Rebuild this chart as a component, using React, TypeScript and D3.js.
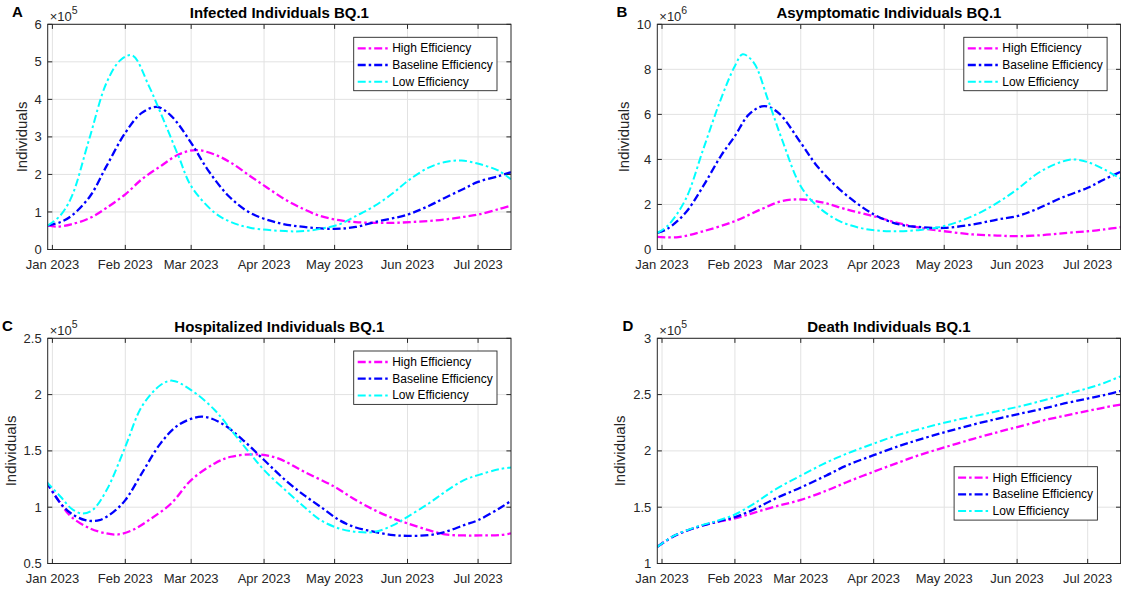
import * as d3 from "d3";

// day offsets from 1 Jan 2023, values in axis units (x10^5 or x10^6)
const infectedHigh: [number, number][] = [
  [-2, 0.64], [2, 0.61], [8, 0.67], [16, 0.84], [23, 1.11], [31, 1.47], [38, 1.87], [46, 2.22],
  [53.6, 2.53], [61, 2.65], [69, 2.53], [76, 2.31], [84, 1.96], [91.5, 1.64], [99, 1.33],
  [107, 1.07], [114, 0.89], [122, 0.78], [129, 0.73], [137, 0.71], [145, 0.71], [152, 0.73],
  [160, 0.76], [167, 0.8], [175, 0.87], [181, 0.93], [190, 1.08], [195, 1.17],
];
const infectedBase: [number, number][] = [
  [-2, 0.64], [3, 0.72], [8, 0.89], [16, 1.42], [23, 2.22], [31, 3.11], [38, 3.64], [44.5, 3.8], [50.5, 3.56],
  [59, 2.84], [66, 2.13], [75, 1.42], [84, 0.98], [96, 0.71], [107, 0.6], [120, 0.55], [129, 0.6],
  [137, 0.73], [151, 0.93], [160, 1.16], [167, 1.38], [175, 1.62], [181, 1.8], [190, 1.96], [195, 2.06],
];
const infectedLow: [number, number][] = [
  [-2, 0.64], [3, 0.88], [8, 1.38], [15.6, 2.93], [23, 4.44], [29, 5.05], [34, 5.17], [41, 4.36], [46, 3.64],
  [53.6, 2.49], [59, 1.69], [69, 0.98], [76, 0.73], [84, 0.58], [99, 0.49], [107, 0.49], [114, 0.55],
  [122, 0.67], [129, 0.89], [137, 1.16], [145, 1.51], [152, 1.87], [160, 2.18], [167, 2.33],
  [174, 2.37], [182, 2.27], [190, 2.09], [195, 1.87],
];

const asymHigh: [number, number][] = [
  [-2, 0.56], [7, 0.55], [17.5, 0.81], [31, 1.26], [42, 1.78], [51, 2.15], [60, 2.22], [69, 2.07],
  [78.5, 1.78], [90, 1.48], [101, 1.16], [112, 0.92], [120, 0.81], [132, 0.67], [142.5, 0.62],
  [151, 0.59], [162, 0.64], [172.5, 0.74], [181, 0.81], [188, 0.89], [195.6, 1.0],
];
const asymBase: [number, number][] = [
  [-2, 0.74], [2.3, 0.92], [10, 1.63], [17.5, 2.81], [25, 4.15], [31, 5.04], [37, 6.0], [43.4, 6.37],
  [49.5, 6.07], [59, 4.74], [66, 3.7], [75.5, 2.67], [90, 1.56], [101, 1.11], [109, 1.0], [120, 0.96],
  [132, 1.11], [142.5, 1.33], [151, 1.48], [159, 1.78], [170, 2.3], [181, 2.74], [188, 3.11], [195.6, 3.48],
];
const asymLow: [number, number][] = [
  [-2, 0.74], [2.3, 1.04], [10, 2.22], [17.5, 4.44], [25, 6.67], [31, 8.15], [34.3, 8.67], [39, 8.3],
  [45, 6.67], [51, 4.89], [59, 2.81], [66, 1.93], [75.5, 1.26], [86, 0.92], [97, 0.81], [109, 0.86],
  [120, 1.04], [132, 1.48], [142.5, 2.07], [151, 2.67], [159, 3.33], [167, 3.78], [174.5, 4.0],
  [181, 3.88], [188, 3.56], [195.6, 3.11],
];

const hospHigh: [number, number][] = [
  [-2.6, 1.226], [3.5, 1.033], [8, 0.915], [16, 0.811], [23, 0.767], [28, 0.758], [34, 0.796],
  [41, 0.885], [50.5, 1.033], [59, 1.241], [69, 1.389], [76, 1.448], [87, 1.469], [96, 1.433],
  [107, 1.315], [120, 1.181], [129, 1.063], [137, 0.974], [145, 0.9], [151, 0.856], [160, 0.796],
  [167, 0.758], [175, 0.749], [182, 0.749], [190, 0.752], [195, 0.767],
];
const hospBase: [number, number][] = [
  [-2.6, 1.226], [3.5, 1.033], [8, 0.944], [14, 0.885], [20, 0.885], [26, 0.959], [31, 1.063],
  [38, 1.3], [46, 1.567], [53.6, 1.73], [63.4, 1.804], [72, 1.744], [81, 1.596], [90, 1.419],
  [99, 1.241], [107, 1.107], [114, 1.004], [122, 0.885], [129, 0.82], [137, 0.781], [145, 0.752],
  [151, 0.746], [160, 0.752], [167, 0.781], [175, 0.841], [181, 0.885], [190, 0.989], [195, 1.057],
];
const hospLow: [number, number][] = [
  [-2.6, 1.226], [3.5, 1.093], [8, 0.989], [12.6, 0.944], [17, 0.974], [23, 1.15], [31, 1.537],
  [38, 1.893], [46, 2.085], [51, 2.124], [59, 2.04], [69, 1.863], [76, 1.685], [84, 1.478],
  [90, 1.33], [99, 1.152], [107, 1.004], [114, 0.885], [122, 0.811], [129, 0.781], [137, 0.781],
  [145, 0.841], [151, 0.915], [160, 1.033], [167, 1.137], [175, 1.241], [181, 1.285], [190, 1.338],
  [195, 1.353],
];

const deathHigh: [number, number][] = [
  [-2, 1.148], [5, 1.243], [14.5, 1.32], [23.6, 1.37], [31, 1.4], [39, 1.45], [48, 1.505], [59, 1.565],
  [69.7, 1.645], [78.5, 1.722], [90, 1.815], [101, 1.9], [109, 1.96], [120, 2.031], [132, 2.105],
  [142.5, 2.165], [151, 2.212], [162, 2.27], [172.5, 2.318], [181, 2.355], [188, 2.385], [195.6, 2.413],
];
const deathBase: [number, number][] = [
  [-2, 1.148], [5, 1.243], [14.5, 1.32], [23.6, 1.372], [31, 1.412], [39, 1.48], [48, 1.575],
  [59, 1.675], [69.7, 1.78], [78.5, 1.87], [90, 1.962], [101, 2.045], [109, 2.098], [120, 2.165],
  [132, 2.232], [142.5, 2.285], [151, 2.325], [162, 2.375], [172.5, 2.428], [181, 2.465], [188, 2.496],
  [195.6, 2.535],
];
const deathLow: [number, number][] = [
  [-2, 1.148], [5, 1.245], [14.5, 1.325], [23.6, 1.38], [31, 1.435], [39, 1.53], [48, 1.655],
  [59, 1.78], [69.7, 1.895], [78.5, 1.975], [90, 2.065], [101, 2.145], [109, 2.19], [120, 2.25],
  [132, 2.305], [142.5, 2.352], [151, 2.39], [162, 2.448], [172.5, 2.508], [181, 2.556], [188, 2.603],
  [195.6, 2.668],
];

const seriesNames = ["High Efficiency", "Baseline Efficiency", "Low Efficiency"];
const seriesColors = ["#ff00ff", "#0000ff", "#00ffff"];
const monthTicks = ["2023-01-01", "2023-02-01", "2023-03-01", "2023-04-01", "2023-05-01", "2023-06-01", "2023-07-01"];

const panels = [
  {
    letter: "A", title: "Infected Individuals BQ.1", exp: "5",
    series: [infectedHigh, infectedBase, infectedLow],
    yDomain: [0, 6], yTicks: [0, 1, 2, 3, 4, 5, 6],
    left: 47.7, top: 24.3, letterX: 12, legend: { right: 14, top: 13 }, ylabelDx: 25.7,
  },
  {
    letter: "B", title: "Asymptomatic Individuals BQ.1", exp: "6",
    series: [asymHigh, asymBase, asymLow],
    yDomain: [0, 10], yTicks: [0, 2, 4, 6, 8, 10],
    left: 657.3, top: 24.3, letterX: 616.5, legend: { right: 13.5, top: 13 }, ylabelDx: 33.6,
  },
  {
    letter: "C", title: "Hospitalized Individuals BQ.1", exp: "5",
    series: [hospHigh, hospBase, hospLow],
    yDomain: [0.5, 2.5], yTicks: [0.5, 1, 1.5, 2, 2.5],
    left: 47.7, top: 338.3, letterX: 2, legend: { right: 14, top: 12.7 }, ylabelDx: 36.5,
  },
  {
    letter: "D", title: "Death Individuals BQ.1", exp: "5",
    series: [deathHigh, deathBase, deathLow],
    yDomain: [1, 3], yTicks: [1, 1.5, 2, 2.5, 3],
    left: 657.3, top: 338.3, letterX: 622.5, legend: { right: 23.2, top: 128.4 }, ylabelDx: 37.3,
  },
];

const W = 463.3;
const H = 225.2;
const FONT = "'Liberation Sans', Arial, Helvetica, sans-serif";
const TXT = "#262626";
const jan1 = new Date(2023, 0, 1);
const toDate = (d: number) => new Date(jan1.getTime() + d * 86400000);

function Panel({ p, idx }: { p: (typeof panels)[number]; idx: number }) {
  const x = d3.scaleTime().domain([new Date(2022, 11, 30), new Date(2023, 6, 15)]).range([0, W]);
  const y = d3.scaleLinear().domain(p.yDomain).range([H, 0]);
  const line = d3
    .line<[number, number]>()
    .x((d) => x(toDate(d[0])))
    .y((d) => y(d[1]))
    .curve(d3.curveCatmullRom.alpha(0.5));
  const fmt = d3.timeFormat("%b %Y");
  const tl = 4.6;
  const lw = 143.3;
  const lh = 53.4;
  const lx = W - p.legend.right - lw;
  const ly = p.legend.top;
  const clipId = `clip${idx}`;
  const dash = "8,3,2.5,3";
  return (
    <g transform={`translate(${p.left},${p.top})`} fontFamily={FONT}>
      <defs>
        <clipPath id={clipId}>
          <rect x={0} y={0} width={W} height={H} />
        </clipPath>
      </defs>
      <rect x={0} y={0} width={W} height={H} fill="#fff" />
      {monthTicks.map((m) => (
        <line key={m} x1={x(new Date(m + "T00:00"))} x2={x(new Date(m + "T00:00"))} y1={0} y2={H} stroke="#e2e2e2" />
      ))}
      {p.yTicks.map((t) => (
        <line key={t} x1={0} x2={W} y1={y(t)} y2={y(t)} stroke="#e2e2e2" />
      ))}
      <g clipPath={`url(#${clipId})`}>
        {p.series.map((s, i) => (
          <path
            key={i}
            d={line(s) || ""}
            fill="none"
            stroke={seriesColors[i]}
            strokeWidth={i === 2 ? 2 : 2.3}
            strokeDasharray={dash}
          />
        ))}
      </g>
      <rect x={0} y={0} width={W} height={H} fill="none" stroke="#262626" strokeWidth={1} />
      {monthTicks.map((m) => {
        const xx = x(new Date(m + "T00:00"));
        return (
          <g key={m}>
            <line x1={xx} x2={xx} y1={H} y2={H - tl} stroke="#262626" />
            <line x1={xx} x2={xx} y1={0} y2={tl} stroke="#262626" />
            <text x={xx} y={H + 19.5} textAnchor="middle" fontSize={13} fill={TXT}>
              {fmt(new Date(m + "T00:00"))}
            </text>
          </g>
        );
      })}
      {p.yTicks.map((t) => (
        <g key={t}>
          <line x1={0} x2={tl} y1={y(t)} y2={y(t)} stroke="#262626" />
          <line x1={W} x2={W - tl} y1={y(t)} y2={y(t)} stroke="#262626" />
          <text x={-6} y={y(t) + 4.6} textAnchor="end" fontSize={13} fill={TXT}>
            {t}
          </text>
        </g>
      ))}
      <text x={2} y={-3} fontSize={13} fill={TXT}>
        ×10<tspan fontSize={10.5} dy={-7}>{p.exp}</tspan>
      </text>
      <text
        transform={`translate(${-p.ylabelDx},${H / 2}) rotate(-90)`}
        textAnchor="middle"
        dy={5}
        fontSize={15}
        fill={TXT}
      >
        Individuals
      </text>
      <text x={W / 2} y={-6.5} textAnchor="middle" fontSize={15} fontWeight="bold" fill="#000">
        {p.title}
      </text>
      <text x={p.letterX - p.left} y={-7} fontSize={15} fontWeight="bold" fill="#000">
        {p.letter}
      </text>
      <g transform={`translate(${lx},${ly})`}>
        <rect x={0} y={0} width={lw} height={lh} fill="#fff" stroke="#262626" strokeWidth={0.9} />
        {seriesNames.map((n, i) => (
          <g key={n} transform={`translate(0,${11 + i * 16.7})`}>
            <line
              x1={4}
              x2={35}
              y1={0}
              y2={0}
              stroke={seriesColors[i]}
              strokeWidth={i === 2 ? 2 : 2.3}
              strokeDasharray={dash}
            />
            <text x={38.5} y={4} fontSize={12} fill="#000">
              {n}
            </text>
          </g>
        ))}
      </g>
    </g>
  );
}

export default function App() {
  return (
    <div style={{ position: "absolute", left: 0, top: 0 }}>
      <svg width={1121} height={589} style={{ display: "block", background: "#fff" }}>
        <rect width={1121} height={589} fill="#fff" />
        {panels.map((p, i) => (
          <Panel key={p.letter} p={p} idx={i} />
        ))}
      </svg>
    </div>
  );
}
